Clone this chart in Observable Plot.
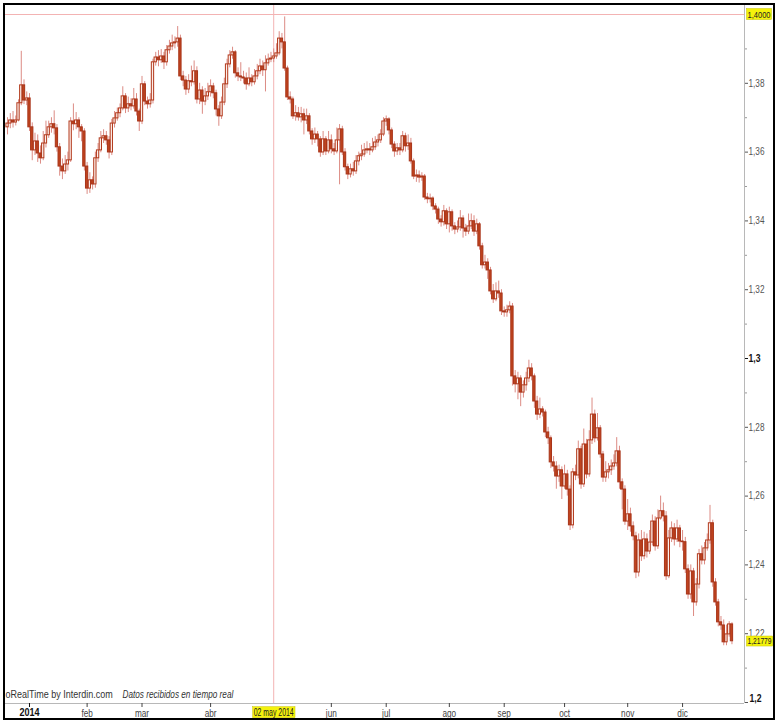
<!DOCTYPE html>
<html><head><meta charset="utf-8">
<script src="https://cdn.jsdelivr.net/npm/d3@7"></script>
<script src="https://cdn.jsdelivr.net/npm/@observablehq/plot@0.6"></script>
<style>
html,body{margin:0;padding:0;background:#fff;overflow:hidden}
#wrap{position:relative;width:777px;height:723px}
#border{position:absolute;left:3px;top:3px;width:772px;height:717px;border:2px solid #000;box-sizing:border-box;pointer-events:none}
</style></head><body>
<div id="wrap"><div id="border"></div></div>
<script>
// trading-day index (0 = first session of 2014)
const dayIndex = d3.range(-8, 257);
// EUR/USD daily candles, in 1/10000 units
const openP = [
13672,13683,13692,13686,13692,13742,13794,13750,13756,13672,
13605,13631,13596,13582,13625,13649,13672,13681,13669,13614,
13558,13544,13564,13576,13689,13681,13692,13672,13660,13558,
13494,13518,13506,13582,13605,13640,13646,13634,13599,13683,
13698,13713,13727,13762,13727,13739,13733,13753,13718,13689,
13797,13747,13739,13750,13861,13875,13867,13878,13861,13896,
13907,13916,13919,13930,13820,13808,13782,13806,13803,13835,
13753,13779,13747,13762,13774,13791,13771,13724,13704,13744,
13797,13855,13881,13890,13829,13820,13817,13814,13797,13814,
13803,13820,13835,13849,13838,13858,13869,13872,13878,13887,
13930,13919,13843,13759,13753,13704,13713,13701,13710,13692,
13704,13660,13637,13651,13637,13599,13637,13602,13634,13608,
13602,13634,13666,13599,13556,13535,13550,13544,13573,13588,
13593,13605,13608,13605,13614,13628,13634,13651,13689,13695,
13663,13622,13602,13611,13605,13646,13617,13625,13573,13529,
13532,13526,13529,13468,13463,13465,13442,13433,13404,13396,
13428,13390,13425,13384,13375,13381,13407,13378,13369,13384,
13399,13369,13390,13326,13271,13279,13256,13195,13172,13195,
13189,13137,13134,13140,13151,12948,12925,12942,12901,12922,
12942,12971,12948,12875,12837,12852,12843,12785,12768,12698,
12686,12657,12675,12628,12663,12619,12515,12669,12660,12736,
12634,12750,12663,12762,12837,12768,12797,12721,12654,12669,
12675,12686,12695,12730,12640,12619,12526,12547,12512,12483,
12378,12471,12425,12474,12439,12465,12526,12454,12535,12556,
12541,12367,12477,12506,12474,12506,12468,12466,12387,12314,
12381,12291,12343,12431,12413,12448,12471,12521,12349,12291,
12233,12224,12175,12198,12227];
const highP = [
13700,13712,13718,13705,13752,13893,13810,13775,13770,13685,
13655,13650,13618,13660,13690,13690,13700,13720,13680,13625,
13580,13590,13600,13700,13740,13715,13700,13680,13668,13570,
13540,13528,13600,13625,13660,13665,13660,13645,13695,13718,
13728,13740,13790,13770,13760,13755,13785,13770,13725,13820,
13805,13760,13770,13870,13890,13895,13898,13890,13910,13925,
13940,13935,13965,13940,13835,13820,13825,13850,13865,13848,
13800,13790,13785,13800,13810,13800,13780,13735,13760,13815,
13870,13895,13905,13895,13845,13860,13835,13830,13845,13825,
13840,13855,13870,13865,13880,13885,13890,13900,13915,13950,
13945,13993,13850,13775,13760,13735,13730,13730,13725,13725,
13712,13668,13670,13660,13645,13660,13645,13660,13650,13625,
13670,13680,13675,13610,13565,13565,13570,13590,13600,13620,
13625,13630,13625,13640,13645,13650,13665,13700,13705,13700,
13670,13630,13625,13625,13660,13655,13650,13640,13580,13548,
13545,13540,13535,13480,13478,13470,13450,13440,13415,13445,
13435,13440,13432,13395,13400,13430,13415,13390,13420,13420,
13415,13405,13395,13335,13300,13290,13265,13215,13220,13225,
13200,13150,13155,13165,13160,12965,12960,12950,12935,12960,
12995,12985,12955,12890,12885,12860,12850,12800,12775,12715,
12700,12690,12685,12690,12675,12630,12680,12690,12760,12745,
12795,12765,12790,12885,12850,12840,12805,12730,12700,12695,
12705,12720,12770,12745,12650,12630,12590,12565,12525,12495,
12490,12500,12495,12490,12500,12545,12540,12560,12600,12580,
12555,12500,12525,12520,12530,12515,12500,12480,12400,12400,
12390,12360,12445,12455,12465,12490,12573,12530,12360,12300,
12250,12240,12225,12235,12232];
const lowP = [
13650,13668,13670,13676,13688,13735,13738,13735,13660,13575,
13590,13570,13565,13575,13612,13640,13655,13650,13600,13530,
13520,13535,13545,13570,13662,13665,13640,13630,13545,13477,
13480,13490,13495,13570,13598,13625,13620,13580,13590,13670,
13690,13700,13720,13712,13715,13720,13725,13705,13660,13680,
13735,13725,13728,13740,13850,13848,13858,13840,13850,13885,
13895,13900,13905,13808,13790,13765,13770,13790,13795,13740,
13738,13710,13735,13750,13760,13755,13705,13675,13695,13735,
13785,13845,13870,13815,13805,13805,13798,13780,13790,13790,
13795,13810,13825,13820,13775,13850,13860,13860,13870,13880,
13900,13835,13750,13740,13695,13690,13690,13685,13650,13680,
13650,13620,13625,13615,13585,13590,13590,13595,13595,13590,
13595,13505,13590,13545,13520,13525,13530,13535,13560,13575,
13585,13595,13590,13598,13605,13615,13625,13645,13675,13650,
13610,13585,13590,13590,13598,13600,13605,13565,13520,13512,
13510,13515,13460,13450,13452,13430,13420,13390,13382,13385,
13375,13365,13370,13360,13365,13370,13350,13355,13360,13375,
13355,13360,13315,13260,13260,13230,13185,13160,13165,13175,
13125,13120,13120,13130,12920,12900,12880,12860,12885,12905,
12930,12935,12855,12820,12825,12830,12770,12750,12680,12670,
12620,12640,12590,12620,12600,12500,12505,12645,12650,12620,
12625,12650,12655,12750,12755,12760,12710,12640,12640,12650,
12660,12675,12685,12620,12560,12515,12500,12495,12470,12360,
12365,12410,12415,12420,12430,12455,12440,12445,12530,12525,
12355,12360,12465,12455,12465,12450,12440,12375,12300,12300,
12250,12280,12330,12400,12400,12440,12460,12335,12280,12220,
12210,12165,12165,12190,12168];
const closeP = [
13683,13692,13686,13692,13742,13794,13750,13756,13672,13605,
13631,13596,13582,13625,13649,13672,13681,13669,13614,13558,
13544,13564,13576,13689,13681,13692,13672,13660,13558,13494,
13518,13506,13582,13605,13640,13646,13634,13599,13683,13698,
13713,13727,13762,13727,13739,13733,13753,13718,13689,13797,
13747,13739,13750,13861,13875,13867,13878,13861,13896,13907,
13916,13919,13930,13820,13808,13782,13806,13803,13835,13753,
13779,13747,13762,13774,13791,13771,13724,13704,13744,13797,
13855,13881,13890,13829,13820,13817,13814,13797,13814,13803,
13820,13835,13849,13838,13858,13869,13872,13878,13887,13930,
13919,13843,13759,13753,13704,13713,13701,13710,13692,13704,
13660,13637,13651,13637,13599,13637,13602,13634,13608,13602,
13634,13666,13599,13556,13535,13550,13544,13573,13588,13593,
13605,13608,13605,13614,13628,13634,13651,13689,13695,13663,
13622,13602,13611,13605,13646,13617,13625,13573,13529,13532,
13526,13529,13468,13463,13465,13442,13433,13404,13396,13428,
13390,13425,13384,13375,13381,13407,13378,13369,13384,13399,
13369,13390,13326,13271,13279,13256,13195,13172,13195,13189,
13137,13134,13140,13151,12948,12925,12942,12901,12922,12942,
12971,12948,12875,12837,12852,12843,12785,12768,12698,12686,
12657,12675,12628,12663,12619,12515,12669,12660,12736,12634,
12750,12663,12762,12837,12768,12797,12721,12654,12669,12675,
12686,12695,12730,12640,12619,12526,12547,12512,12483,12378,
12471,12425,12474,12439,12465,12526,12454,12535,12556,12541,
12367,12477,12506,12474,12506,12468,12466,12387,12314,12381,
12291,12343,12431,12413,12448,12471,12521,12349,12291,12233,
12224,12175,12198,12227,12178];

// axis ticks and labels
const monthPos = [21, 41, 66, 110, 130, 153, 173, 195, 218, 238];
const monthLabels = ["feb", "mar", "abr", "jun", "jul", "ago", "sep", "oct", "nov", "dic"];
const yearPos = [0];
const yearLabels = ["2014"];
const yTickValues = [1.22, 1.24, 1.26, 1.28, 1.32, 1.34, 1.36, 1.38];
const yTickLabels = ["1,22", "1,24", "1,26", "1,28", "1,32", "1,34", "1,36", "1,38"];
const yBoldValues = [1.3];
const yBoldLabels = ["1,3"];
const yBottomValues = [1.2];
const yBottomLabels = ["1,2"];
const yMinorValues = [1.21, 1.23, 1.25, 1.27, 1.29, 1.31, 1.33, 1.35, 1.37, 1.39];
// crosshair and price labels
const crossIndex = [89];
const crossLabel = "02 may 2014";
const crossValue = [1.4];
const crossValueLabel = "1,4000";
const lastValue = [1.21779];
const lastValueLabel = "1,21779";
const sourceText = "oRealTime by Interdin.com";
const noteText = "Datos recibidos en tiempo real";

const candles = dayIndex.map((i, k) => ({i, o: openP[k] / 1e4, h: highP[k] / 1e4, l: lowP[k] / 1e4, c: closeP[k] / 1e4}));
const ups = candles.filter(d => d.c >= d.o);
const downs = candles.filter(d => d.c < d.o);

const font = '"Liberation Sans",Arial,sans-serif';
const xLo = -9.11, xHi = 260.57, yLo = 1.19971, yHi = 1.40262;
const hw = 0.42;
const axisColor = "#b8b8b8", textColor = "#2a2a2a", cross = "#f3b3b3";

const chart = Plot.plot({
  width: 777, height: 723,
  marginTop: 5, marginBottom: 20, marginLeft: 4, marginRight: 33,
  x: {type: "linear", domain: [xLo, xHi]},
  y: {type: "linear", domain: [yLo, yHi]},
  style: {fontFamily: font, background: "#fff", color: textColor},
  marks: [
    Plot.ruleX(crossIndex, {x: d => d, stroke: cross, strokeWidth: 1}),
    Plot.ruleY(crossValue, {y: d => d, stroke: cross, strokeWidth: 1.2}),
    Plot.ruleY([yLo], {y: d => d, stroke: axisColor}),
    Plot.ruleX([xHi], {x: d => d, stroke: axisColor}),
    Plot.ruleX(candles, {x: "i", y1: "l", y2: "h", stroke: "#dc8b84", strokeWidth: 1}),
    Plot.rect(ups, {x1: d => d.i - hw, x2: d => d.i + hw, y1: "o", y2: "c", fill: "#fdeeea", stroke: "#b2391b", strokeWidth: 1}),
    Plot.rect(downs, {x1: d => d.i - hw, x2: d => d.i + hw, y1: "o", y2: "c", fill: "#c0441d", stroke: "#a8341a", strokeWidth: 1}),
    Plot.axisY({ticks: yMinorValues, anchor: "right", tickSize: 2, tickFormat: () => "", label: null, color: "#999"}),
    Plot.axisY({ticks: yTickValues, anchor: "right", tickSize: 3, tickPadding: 1, tickFormat: d => yTickLabels[yTickValues.indexOf(d)], label: null, fontSize: 10, color: "#555"}),
    Plot.axisY({ticks: yBoldValues, anchor: "right", tickSize: 3, tickPadding: 1, tickFormat: d => yBoldLabels[yBoldValues.indexOf(d)], label: null, fontSize: 10.5, fontWeight: "bold", color: "#111"}),
    Plot.axisY({ticks: yBottomValues, anchor: "right", tickSize: 3, tickFormat: () => "", label: null, color: "#555"}),
    Plot.text(yBottomValues, {y: d => d, frameAnchor: "right", dx: 5, dy: -4, textAnchor: "start", text: d => yBottomLabels[yBottomValues.indexOf(d)], fontSize: 10.5, fontWeight: "bold", fill: "#111"}),
    Plot.axisX({ticks: monthPos, anchor: "bottom", tickSize: 4, tickPadding: 2, tickFormat: d => monthLabels[monthPos.indexOf(d)], label: null, fontSize: 10, color: "#444"}),
    Plot.axisX({ticks: yearPos, anchor: "bottom", tickSize: 4, tickPadding: 1, tickFormat: d => yearLabels[yearPos.indexOf(d)], label: null, fontSize: 11, fontWeight: "bold", color: "#111"}),
    Plot.text(crossIndex, {x: d => d, frameAnchor: "bottom", dy: 9, text: () => crossLabel, fontSize: 10, fill: "#222", lineAnchor: "middle"}),
    Plot.text(crossValue, {y: d => d, frameAnchor: "right", dx: 3, textAnchor: "start", text: () => crossValueLabel, fontSize: 9.5, fill: "#222"}),
    Plot.text(lastValue, {y: d => d, frameAnchor: "right", dx: 3, textAnchor: "start", text: () => lastValueLabel, fontSize: 8.5, fill: "#222"}),
    Plot.text([sourceText], {frameAnchor: "bottom-left", dx: 1, dy: -6, textAnchor: "start", text: d => d, fontSize: 10, fill: "#333"}),
    Plot.text([noteText], {frameAnchor: "bottom-left", dx: 118, dy: -6, textAnchor: "start", text: d => d, fontSize: 10, fontStyle: "italic", fill: "#333"})
  ]
});

const wrap = document.getElementById("wrap");
wrap.insertBefore(chart, document.getElementById("border"));

// narrow the lettering (the reference uses a condensed face)
const fitWidth = new Map([[lastValueLabel, 24], [crossValueLabel, 23], [crossLabel, 40]]);
const fitRatio = new Map([[sourceText, 0.9]]);
chart.querySelectorAll("text").forEach(t => {
  const s = t.textContent;
  if (!s) return;
  const w = t.getComputedTextLength();
  const target = fitWidth.has(s) ? fitWidth.get(s) : w * (fitRatio.get(s) || 0.82);
  t.setAttribute("textLength", target.toFixed(1));
  t.setAttribute("lengthAdjust", "spacingAndGlyphs");
});

// yellow highlight boxes behind the crosshair / price labels
const hl = new Set([crossLabel, crossValueLabel, lastValueLabel]);
chart.querySelectorAll("text").forEach(t => {
  if (!hl.has(t.textContent)) return;
  const b = t.getBBox();
  const r = document.createElementNS("http://www.w3.org/2000/svg", "rect");
  r.setAttribute("x", b.x - 1);
  r.setAttribute("y", b.y);
  r.setAttribute("width", b.width + 2);
  r.setAttribute("height", b.height);
  r.setAttribute("fill", "#f4f20c");
  r.setAttribute("stroke", "#c8c400");
  r.setAttribute("stroke-width", "0.5");
  if (t.getAttribute("transform")) r.setAttribute("transform", t.getAttribute("transform"));
  t.parentNode.insertBefore(r, t);
});
</script></body></html>
